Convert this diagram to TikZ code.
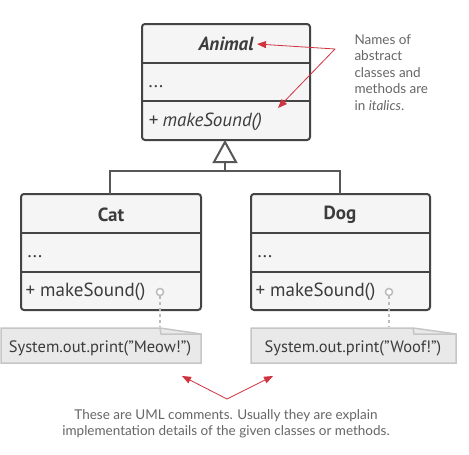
\documentclass[tikz,border=0pt]{standalone}
\usepackage{fontspec}
\setmainfont{PT Sans}
\newfontfamily\remarkfont{Lato}
\usetikzlibrary{arrows.meta, positioning, calc}
\definecolor{boxfill}{HTML}{F5F5F5}
\definecolor{boxline}{HTML}{444444}
\definecolor{notefill}{HTML}{E9E9E9}
\definecolor{noteline}{HTML}{C6C6C6}
\definecolor{pingray}{HTML}{BBBBBB}
\definecolor{hintred}{HTML}{D0333D}
\definecolor{textgray}{HTML}{3C3C3C}

\tikzset{
	classbox/.style={draw=boxline, line width=2pt, fill=boxfill, rounded corners=3pt},
	divider/.style={draw=boxline, line width=2pt},
	titletext/.style={font=\fontsize{19}{22}\selectfont\bfseries, text=textgray},
	membertext/.style={font=\fontsize{19}{22}\selectfont, text=textgray, anchor=west},
	inherit/.style={draw=boxline!90, line width=2pt},
	notebox/.style={draw=noteline, line width=1.5pt, fill=notefill},
	notetext/.style={font=\fontsize{16.5}{20}\selectfont, text=textgray},
	pinline/.style={draw=pingray, line width=1.5pt, dashed, dash pattern=on 3pt off 3pt},
	hint/.style={draw=hintred, line width=0.8pt, -{Triangle[length=9pt, width=7pt]}},
	remark/.style={font=\remarkfont\fontsize{13.5}{16.5}\selectfont, text=black!60, align=left}
}
\newcommand{\qt}{\symbol{34}}

\begin{document}
\begin{tikzpicture}[x=1pt, y=-1pt]
		\fill [white] (0,0) rectangle (469,455);
		\useasboundingbox (0,0) rectangle (469,455);

		% abstract class
		\draw [classbox] (142,24) rectangle (310,140);
		\draw [divider] (142,63) -- (310,63);
		\draw [divider] (142,101) -- (310,101);
		\node [titletext] (animal) at (226,44) {\itshape Animal};
		\node [membertext] (animalfields) at (145,87) {...};
		\node [membertext] (animalop) at (145,122) {\itshape + makeSound()};

		% subclasses
		\draw [classbox] (21,194) rectangle (201,310);
		\draw [divider] (21,233) -- (201,233);
		\draw [divider] (21,272) -- (201,272);
		\node [titletext] (cat) at (111,215) {Cat};
		\node [membertext] (catfields) at (24,257) {...};
		\node [membertext] (catop) at (22,292) {+ makeSound()};

		\draw [classbox] (251,194) rectangle (430,310);
		\draw [divider] (251,233) -- (430,233);
		\draw [divider] (251,272) -- (430,272);
		\node [titletext] (dog) at (340,215) {Dog};
		\node [membertext] (dogfields) at (254,257) {...};
		\node [membertext] (dogop) at (252,292) {+ makeSound()};

		% inheritance
		\coordinate (apex) at (225,142);
		\coordinate (base) at (225,162);
		\coordinate (fork) at (225,171);
		\coordinate (cattop) at (110,194);
		\coordinate (dogtop) at (340,194);
		\draw [inherit] (cattop) |- (fork) -| (dogtop);
		\draw [inherit] (fork) -- (base);
		\draw [inherit, fill=white, line join=miter] (apex) -- ($(base)+(-11,0)$) -- ($(base)+(11,0)$) -- cycle;

		% comments
		\draw [notebox] (1,328) -- (160,328) -- (201,334) -- (201,363) -- (1,363) -- cycle;
		\draw [noteline, line width=1.5pt] (160,328) -- (161,334) -- (201,334);
		\node [notetext] (meow) at (100,348) {System.out.print(\qt Meow!\qt)};

		\draw [notebox] (251,328) -- (413,328) -- (456,334) -- (456,363) -- (251,363) -- cycle;
		\draw [noteline, line width=1.5pt] (413,328) -- (414,334) -- (456,334);
		\node [notetext] (woof) at (353,348) {System.out.print(\qt Woof!\qt)};

		\node [circle, draw=pingray, line width=1.5pt, fill=white, inner sep=2.5pt] (catpin) at (160,292) {};
		\node [circle, draw=pingray, line width=1.5pt, fill=white, inner sep=2.5pt] (dogpin) at (389,292) {};
		\draw [pinline] (catpin.south) -- (160,327);
		\draw [pinline] (dogpin.south) -- (389,327);

		% hints
		\node [remark, anchor=north west] (italicnote) at (351,31) {Names of\\abstract\\classes and\\methods are\\in \textit{italics}.};
		\coordinate (italictip) at (335,49);
		\draw [hint] (italictip) -- (animal.east);
		\draw [hint] (italictip) -- (278,108);

		\node [remark, align=center] (umlnote) at (226,424) {These are UML comments. Usually they are explain\\implementation details of the given classes or methods.};
		\coordinate (umltip) at (227,399);
		\draw [hint] (umltip) -- (182,376);
		\draw [hint] (umltip) -- (273,376);
	\end{tikzpicture}
\end{document}
